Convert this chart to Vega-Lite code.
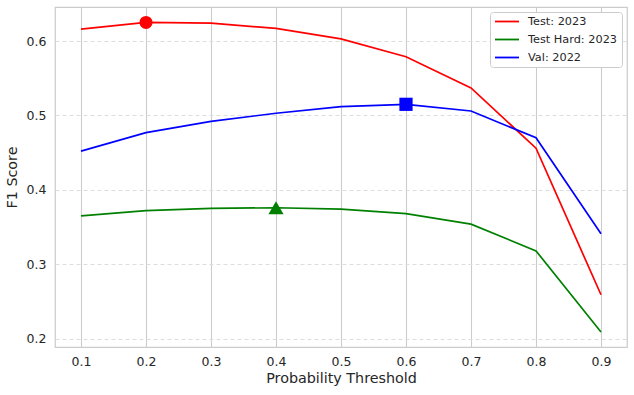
{
  "$schema": "https://vega.github.io/schema/vega-lite/v6.json",
  "width": 572,
  "height": 340,
  "autosize": {"type": "none"},
  "padding": {"left": 55, "top": 7, "right": 7, "bottom": 48},
  "background": "white",
  "config": {
    "font": "DejaVu Sans",
    "view": {"stroke": "#cccccc", "strokeWidth": 1.25},
    "axis": {
      "domain": false,
      "ticks": false,
      "labelFont": "DejaVu Sans",
      "labelFontSize": 12.5,
      "labelColor": "#262626",
      "titleFont": "DejaVu Sans",
      "titleFontSize": 14.3,
      "titleFontWeight": "normal",
      "titleColor": "#262626"
    },
    "legend": {
      "labelFont": "DejaVu Sans",
      "labelFontSize": 11.3,
      "labelColor": "#262626"
    }
  },
  "data": {
    "values": [
      {"series": "Test: 2023", "threshold": 0.1, "f1": 0.616, "best": false},
      {"series": "Test: 2023", "threshold": 0.2, "f1": 0.625, "best": true},
      {"series": "Test: 2023", "threshold": 0.3, "f1": 0.624, "best": false},
      {"series": "Test: 2023", "threshold": 0.4, "f1": 0.617, "best": false},
      {"series": "Test: 2023", "threshold": 0.5, "f1": 0.603, "best": false},
      {"series": "Test: 2023", "threshold": 0.6, "f1": 0.579, "best": false},
      {"series": "Test: 2023", "threshold": 0.7, "f1": 0.537, "best": false},
      {"series": "Test: 2023", "threshold": 0.8, "f1": 0.456, "best": false},
      {"series": "Test: 2023", "threshold": 0.9, "f1": 0.259, "best": false},
      {"series": "Test Hard: 2023", "threshold": 0.1, "f1": 0.365, "best": false},
      {"series": "Test Hard: 2023", "threshold": 0.2, "f1": 0.372, "best": false},
      {"series": "Test Hard: 2023", "threshold": 0.3, "f1": 0.375, "best": false},
      {"series": "Test Hard: 2023", "threshold": 0.4, "f1": 0.376, "best": true},
      {"series": "Test Hard: 2023", "threshold": 0.5, "f1": 0.374, "best": false},
      {"series": "Test Hard: 2023", "threshold": 0.6, "f1": 0.368, "best": false},
      {"series": "Test Hard: 2023", "threshold": 0.7, "f1": 0.354, "best": false},
      {"series": "Test Hard: 2023", "threshold": 0.8, "f1": 0.318, "best": false},
      {"series": "Test Hard: 2023", "threshold": 0.9, "f1": 0.209, "best": false},
      {"series": "Val: 2022", "threshold": 0.1, "f1": 0.452, "best": false},
      {"series": "Val: 2022", "threshold": 0.2, "f1": 0.477, "best": false},
      {"series": "Val: 2022", "threshold": 0.3, "f1": 0.492, "best": false},
      {"series": "Val: 2022", "threshold": 0.4, "f1": 0.503, "best": false},
      {"series": "Val: 2022", "threshold": 0.5, "f1": 0.512, "best": false},
      {"series": "Val: 2022", "threshold": 0.6, "f1": 0.515, "best": true},
      {"series": "Val: 2022", "threshold": 0.7, "f1": 0.506, "best": false},
      {"series": "Val: 2022", "threshold": 0.8, "f1": 0.470, "best": false},
      {"series": "Val: 2022", "threshold": 0.9, "f1": 0.341, "best": false}
    ]
  },
  "encoding": {
    "x": {
      "field": "threshold",
      "type": "quantitative",
      "scale": {"domain": [0.06, 0.94], "nice": false, "zero": false},
      "axis": {
        "title": "Probability Threshold",
        "values": [0.1, 0.2, 0.3, 0.4, 0.5, 0.6, 0.7, 0.8, 0.9],
        "format": ".1f",
        "grid": true,
        "gridColor": "#cccccc",
        "gridWidth": 1.1,
        "labelPadding": 8,
        "titlePadding": 4
      }
    },
    "y": {
      "field": "f1",
      "type": "quantitative",
      "scale": {"domain": [0.1888, 0.6458], "nice": false, "zero": false},
      "axis": {
        "title": "F1 Score",
        "values": [0.2, 0.3, 0.4, 0.5, 0.6],
        "format": ".1f",
        "grid": true,
        "gridColor": "#dddddd",
        "gridDash": [4, 3],
        "gridWidth": 1,
        "labelPadding": 9,
        "titlePadding": 7
      }
    }
  },
  "layer": [
    {
      "mark": {"type": "line", "strokeWidth": 1.7},
      "encoding": {
        "color": {
          "field": "series",
          "type": "nominal",
          "scale": {
            "domain": ["Test: 2023", "Test Hard: 2023", "Val: 2022"],
            "range": ["#ff0000", "#008000", "#0000ff"]
          },
          "legend": {
            "title": null,
            "orient": "top-right",
            "offset": 5,
            "symbolType": "stroke",
            "symbolSize": 576,
            "symbolStrokeWidth": 1.8,
            "clipHeight": 11,
            "fillColor": "white",
            "strokeColor": "#cccccc",
            "cornerRadius": 3,
            "padding": 4,
            "rowPadding": 6,
            "labelOffset": 8
          }
        }
      }
    },
    {
      "transform": [{"filter": "datum.best && datum.series === 'Test: 2023'"}],
      "mark": {"type": "point", "filled": true, "opacity": 1, "shape": "circle", "fill": "#ff0000", "size": 170}
    },
    {
      "transform": [{"filter": "datum.best && datum.series === 'Test Hard: 2023'"}],
      "mark": {"type": "point", "filled": true, "opacity": 1, "shape": "triangle-up", "fill": "#008000", "size": 230}
    },
    {
      "transform": [{"filter": "datum.best && datum.series === 'Val: 2022'"}],
      "mark": {"type": "point", "filled": true, "opacity": 1, "shape": "square", "fill": "#0000ff", "size": 175}
    }
  ]
}
